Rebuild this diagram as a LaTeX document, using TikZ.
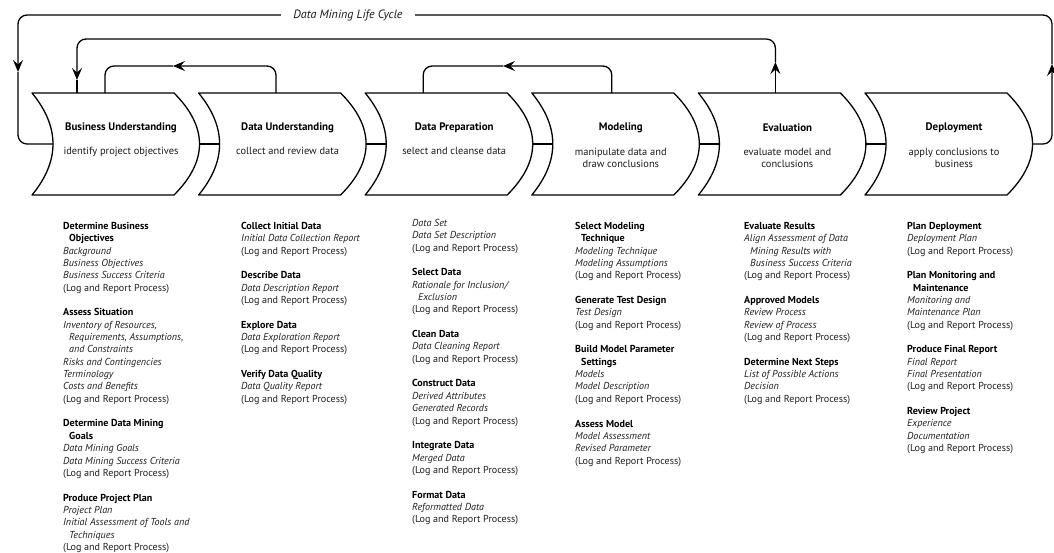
\documentclass[tikz,border=0pt]{standalone}
\usepackage{fontspec}
\setmainfont{PT Sans}
\usetikzlibrary{arrows.meta,calc}
\newcommand\logrep{(Log and Report Process)}
\newcommand\hd[1]{{\color{black}\bfseries #1}}
\newcommand\itm[1]{\textit{#1}}
\newcommand\ind{\hspace*{6pt}}
\begin{document}
\begin{tikzpicture}[x=1pt,y=-1pt,
  chev/.style={minimum width=142pt,minimum height=102pt,inner sep=0pt,outer sep=0pt},
  outline/.style={line width=1.3pt,line join=round},
  lp/.style={line width=1.3pt,rounded corners=9pt},
  arr/.style={-{Stealth[length=12pt,width=10pt,inset=4.5pt]}},
  ttl/.style={font=\fontsize{10.9}{12}\selectfont\bfseries,inner sep=0pt},
  sub/.style={font=\fontsize{10.4}{11.8}\selectfont,align=center,anchor=north,text=black!90,inner sep=0pt},
  col/.style={anchor=north west,align=left,font=\fontsize{10.1}{12.35}\selectfont,text=black!88,inner sep=0pt},
]
\useasboundingbox (0,0) rectangle (1054,552);
\foreach \i in {1,...,6}{
  \node[chev] (c\i) at ({32+166.6*(\i-1)+71},144) {};
  \draw[outline] (c\i.north west) -- (c\i.north east)
     .. controls +(34,34) and +(34,-34) .. (c\i.south east)
     -- (c\i.south west)
     .. controls +(28,-34) and +(28,34) .. (c\i.north west) -- cycle;
  \coordinate (t\i) at ($(c\i.east)+(25.5,0)$);
  \coordinate (n\i) at ($(c\i.west)+(21,0)$);
}
\foreach \a/\b in {1/2,2/3,3/4,4/5,5/6}{
  \draw[outline] (t\a) -- (n\b);
}
% chevron texts
\node[ttl] (c1t) at ($(c1.center)+(18,-16)$) {Business Understanding};
\node[sub] (c1s) at ($(c1.center)+(18,3)$) {identify project objectives};
\node[ttl] (c2t) at ($(c2.center)+(18,-16)$) {Data Understanding};
\node[sub] (c2s) at ($(c2.center)+(18,3)$) {collect and review data};
\node[ttl] (c3t) at ($(c3.center)+(18,-16)$) {Data Preparation};
\node[sub] (c3s) at ($(c3.center)+(18,3)$) {select and cleanse data};
\node[ttl] (c4t) at ($(c4.center)+(18,-16)$) {Modeling};
\node[sub] (c4s) at ($(c4.center)+(18,4)$) {manipulate data and\\draw conclusions};
\node[ttl] (c5t) at ($(c5.center)+(18,-16)$) {Evaluation};
\node[sub] (c5s) at ($(c5.center)+(18,4)$) {evaluate model and\\conclusions};
\node[ttl] (c6t) at ($(c6.center)+(18,-16)$) {Deployment};
\node[sub] (c6s) at ($(c6.center)+(18,4)$) {apply conclusions to\\business};
% outer life cycle loop
\coordinate (aR) at (1052,64);
\coordinate (aL) at (18,72);
\draw[lp,arr] (t6) -| (aR);
\draw[lp,arr] (aR) -- (1052,15) -| (aL);
\draw[lp] (aL) |- (n1);
\node[fill=white,inner xsep=12pt,inner ysep=2pt,font=\fontsize{12}{13}\selectfont\itshape,text=black!90] (lbl) at (348,15) {Data Mining Life Cycle};
% evaluation -> business understanding
\coordinate (e5) at ($(c5.north)+(6,0)$);
\coordinate (a5) at ($(e5)+(0,-31)$);
\coordinate (b1) at ($(c1.north)+(-26,-13)$);
\draw[lp,arr] (e5) -- (a5);
\draw[lp,arr] (a5) -- ++(0,-23) -| (b1);
\draw[lp] (b1) -- ($(c1.north)+(-26,0)$);
% data understanding -> business understanding
\coordinate (a3) at (173,66);
\draw[lp,arr] ($(c2.north)+(6.4,0)$) |- (a3);
\draw[lp] (a3) -| ($(c1.north)+(2,0)$);
% modeling -> data preparation
\coordinate (a4) at (503,66);
\draw[lp,arr] ($(c4.north)+(9,0)$) |- (a4);
\draw[lp] (a4) -| ($(c3.north)+(-13,0)$);
% task columns
\node[col] (k1) at (63,222) {%
\hd{Determine Business}\\
\ind\hd{Objectives}\\
\itm{Background}\\
\itm{Business Objectives}\\
\itm{Business Success Criteria}\\
\logrep\\[12.35pt]
\hd{Assess Situation}\\
\itm{Inventory of Resources,}\\
\ind\itm{Requirements, Assumptions,}\\
\ind\itm{and Constraints}\\
\itm{Risks and Contingencies}\\
\itm{Terminology}\\
\itm{Costs and Benefits}\\
\logrep\\[12.35pt]
\hd{Determine Data Mining}\\
\ind\hd{Goals}\\
\itm{Data Mining Goals}\\
\itm{Data Mining Success Criteria}\\
\logrep\\[12.35pt]
\hd{Produce Project Plan}\\
\itm{Project Plan}\\
\itm{Initial Assessment of Tools and}\\
\ind\itm{Techniques}\\
\logrep};
\node[col] (k2) at (241,222) {%
\hd{Collect Initial Data}\\
\itm{Initial Data Collection Report}\\
\logrep\\[12.35pt]
\hd{Describe Data}\\
\itm{Data Description Report}\\
\logrep\\[12.35pt]
\hd{Explore Data}\\
\itm{Data Exploration Report}\\
\logrep\\[12.35pt]
\hd{Verify Data Quality}\\
\itm{Data Quality Report}\\
\logrep};
\node[col] (k3) at (412,219) {%
\itm{Data Set}\\
\itm{Data Set Description}\\
\logrep\\[12.35pt]
\hd{Select Data}\\
\itm{Rationale for Inclusion/}\\
\ind\itm{Exclusion}\\
\logrep\\[12.35pt]
\hd{Clean Data}\\
\itm{Data Cleaning Report}\\
\logrep\\[12.35pt]
\hd{Construct Data}\\
\itm{Derived Attributes}\\
\itm{Generated Records}\\
\logrep\\[12.35pt]
\hd{Integrate Data}\\
\itm{Merged Data}\\
\logrep\\[12.35pt]
\hd{Format Data}\\
\itm{Reformatted Data}\\
\logrep};
\node[col] (k4) at (575,222) {%
\hd{Select Modeling}\\
\ind\hd{Technique}\\
\itm{Modeling Technique}\\
\itm{Modeling Assumptions}\\
\logrep\\[12.35pt]
\hd{Generate Test Design}\\
\itm{Test Design}\\
\logrep\\[12.35pt]
\hd{Build Model Parameter}\\
\ind\hd{Settings}\\
\itm{Models}\\
\itm{Model Description}\\
\logrep\\[12.35pt]
\hd{Assess Model}\\
\itm{Model Assessment}\\
\itm{Revised Parameter}\\
\logrep};
\node[col] (k5) at (744,222) {%
\hd{Evaluate Results}\\
\itm{Align Assessment of Data}\\
\ind\itm{Mining Results with}\\
\ind\itm{Business Success Criteria}\\
\logrep\\[12.35pt]
\hd{Approved Models}\\
\itm{Review Process}\\
\itm{Review of Process}\\
\logrep\\[12.35pt]
\hd{Determine Next Steps}\\
\itm{List of Possible Actions}\\
\itm{Decision}\\
\logrep};
\node[col] (k6) at (907,222) {%
\hd{Plan Deployment}\\
\itm{Deployment Plan}\\
\logrep\\[12.35pt]
\hd{Plan Monitoring and}\\
\ind\hd{Maintenance}\\
\itm{Monitoring and}\\
\itm{Maintenance Plan}\\
\logrep\\[12.35pt]
\hd{Produce Final Report}\\
\itm{Final Report}\\
\itm{Final Presentation}\\
\logrep\\[12.35pt]
\hd{Review Project}\\
\itm{Experience}\\
\itm{Documentation}\\
\logrep};
\end{tikzpicture}
\end{document}
